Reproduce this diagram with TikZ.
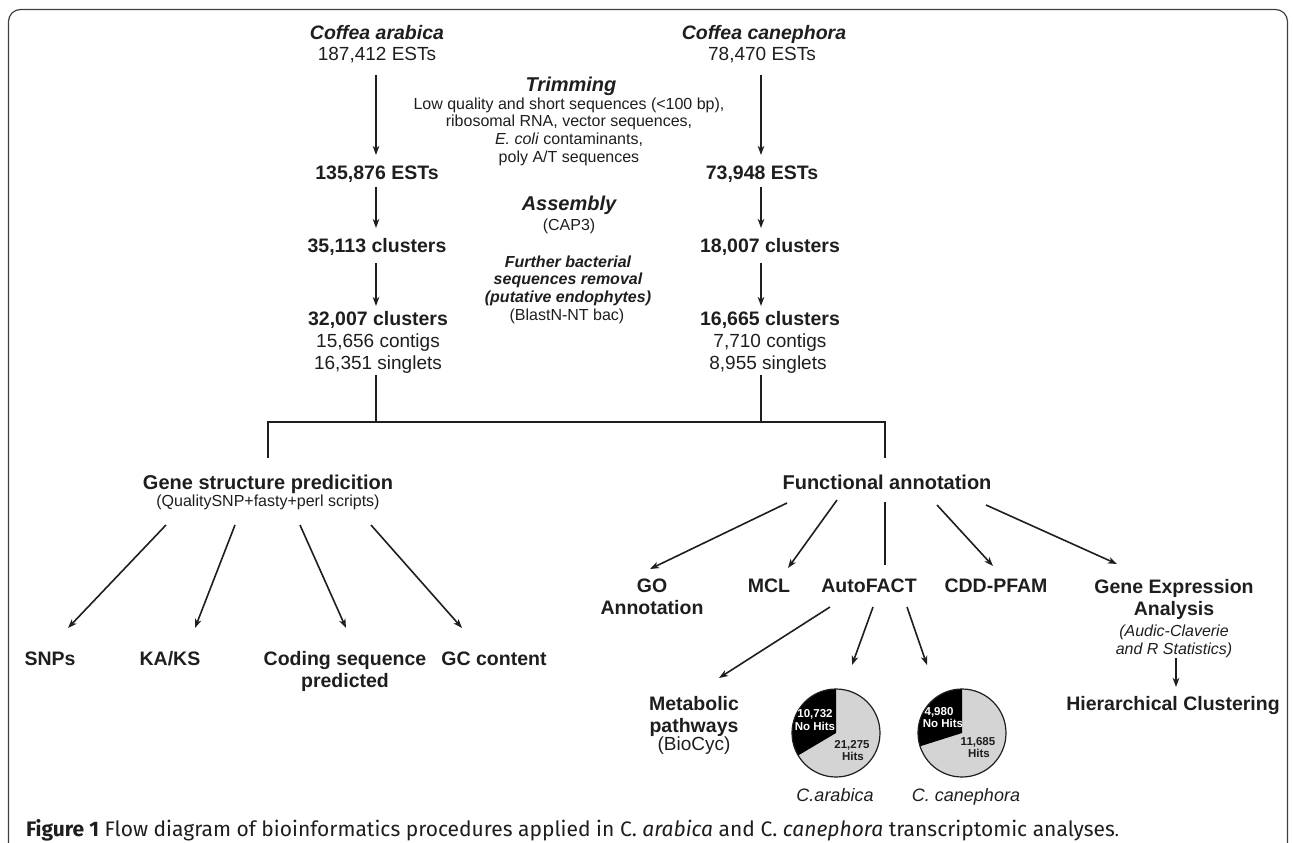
\documentclass[tikz,border=0pt]{standalone}
\usepackage{fontspec}
\setmainfont{Liberation Sans}
\newfontfamily\capfont{Fira Sans}
\usetikzlibrary{arrows.meta,calc}
\newcommand\fsHead{\fontsize{20}{22}\selectfont}
\newcommand\fsBig{\fontsize{19.5}{22}\selectfont}
\newcommand\fsReg{\fontsize{19}{22}\selectfont}
\newcommand\fsSmall{\fontsize{16}{18}\selectfont}
\newcommand\fsPie{\fontsize{11.5}{13}\selectfont}
\newcommand\fsPlab{\fontsize{18}{20}\selectfont}
\newcommand\fsCap{\fontsize{21}{24}\selectfont}
\definecolor{ink}{HTML}{1E1E1E}
\definecolor{piegray}{HTML}{D4D4D4}
\begin{document}
\begin{tikzpicture}[x=1pt,y=-1pt,
  txt/.style={inner sep=0pt,outer sep=0pt,anchor=base,text=ink},
  bigb/.style={txt,font=\fsBig\bfseries},
  spec/.style={txt,font=\fsBig\bfseries\itshape},
  regl/.style={txt,font=\fsReg},
  head/.style={txt,font=\fsHead\bfseries},
  headit/.style={txt,font=\fsHead\bfseries\itshape},
  small/.style={txt,font=\fsSmall},
  smallbi/.style={txt,font=\fsSmall\bfseries\itshape},
  smallit/.style={txt,font=\fsSmall\itshape},
  pietxt/.style={txt,font=\fsPie\bfseries},
  plab/.style={txt,font=\fsPlab\itshape},
  arr/.style={draw=ink,line width=1.6pt,-{Stealth[length=9pt,width=6.5pt,inset=2.5pt]}},
  ln/.style={draw=ink,line width=1.6pt},
  frame/.style={draw=ink!85,line width=1.2pt,rounded corners=12pt}]
\useasboundingbox (0,0) rectangle (1293,843);
\draw[frame] (8.5,843) -- (8.5,9.5) -- (1287.5,9.5) -- (1287.5,843);

% column reference coordinates
\coordinate (colL) at (376,0);
\coordinate (colR) at (761,0);

% left column
\node[spec] (ca1) at (377,40) {Coffea arabica};
\node[regl] (ca2) at (377,61) {187,412 ESTs};
\node[bigb] (la3) at (377,179) {135,876 ESTs};
\node[bigb] (la4) at (377,252) {35,113 clusters};
\node[bigb] (la5) at (378,325) {32,007 clusters};
\node[regl] (la6) at (378,347) {15,656 contigs};
\node[regl] (la7) at (378,369) {16,351 singlets};

% right column
\node[spec] (cc1) at (764,40) {Coffea canephora};
\node[regl] (cc2) at (762,61) {78,470 ESTs};
\node[bigb] (rc3) at (762,179) {73,948 ESTs};
\node[bigb] (rc4) at (770,252) {18,007 clusters};
\node[bigb] (rc5) at (770,325) {16,665 clusters};
\node[regl] (rc6) at (770,347) {7,710 contigs};
\node[regl] (rc7) at (768,369) {8,955 singlets};

% middle column
\node[headit] (t1) at (571,92) {Trimming};
\node[small] (t2) at (569,109) {Low quality and short sequences (<100 bp),};
\node[small] (t3) at (569,126.7) {ribosomal RNA, vector sequences,};
\node[small] (t4) at (569,144.3) {\textit{E. coli} contaminants,};
\node[small] (t5) at (569,162) {poly A/T sequences};
\node[headit] (as1) at (569,210) {Assembly};
\node[small] (as2) at (569,230) {(CAP3)};
\node[smallbi] (fb1) at (568,267) {Further bacterial};
\node[smallbi] (fb2) at (568,284.5) {sequences removal};
\node[smallbi] (fb3) at (568,302) {(putative endophytes)};
\node[small] (fb4) at (567,320) {(BlastN-NT bac)};

% vertical arrows
\foreach \a/\b/\s/\e in {ca2/la3/14/24, la3/la4/8/24, la4/la5/11/19}{
  \draw[arr] ($(colL |- \a.base)+(0,\s)$) -- ($(colL |- \b.base)+(0,-\e)$);
}
\foreach \a/\b/\s/\e in {cc2/rc3/14/24, rc3/rc4/8/24, rc4/rc5/11/19}{
  \draw[arr] ($(colR |- \a.base)+(0,\s)$) -- ($(colR |- \b.base)+(0,-\e)$);
}

% second level
\node[head] (gs) at (268,489) {Gene structure predicition};
\node[small] (gs2) at (268,506) {(QualitySNP+fasty+perl scripts)};
\node[head] (fa) at (887,489) {Functional annotation};

% bracket
\draw[ln] ($(colL |- la7.base)+(0,6)$) -- ($(colL |- gs.base)+(0,-67)$);
\draw[ln] ($(colR |- rc7.base)+(0,6)$) -- ($(colR |- gs.base)+(0,-67)$);
\draw[ln] ($(gs.base)+(0,-31)$) |- ($(fa.base)+(-2,-67)$) -- ($(fa.base)+(-2,-31)$);

% gene structure leaves
\node[bigb] (snp) at (50,665) {SNPs};
\node[bigb] (kaks) at (170,665) {KA/KS};
\node[bigb] (cs1) at (345,665) {Coding sequence};
\node[bigb] (cs2) at (345,687) {predicted};
\node[bigb] (gc) at (494,665) {GC content};
\draw[arr] ($(gs2.base)+(-102,19)$) -- ($(snp.base)+(18,-37)$);
\draw[arr] ($(gs2.base)+(-33,19)$) -- ($(kaks.base)+(25,-37)$);
\draw[arr] ($(gs2.base)+(32,19)$) -- ($(cs1.base)+(1,-37)$);
\draw[arr] ($(gs2.base)+(103,19)$) -- ($(gc.base)+(-32,-37)$);

% functional annotation leaves
\node[bigb] (go1) at (652,592) {GO};
\node[bigb] (go2) at (652,614) {Annotation};
\node[bigb] (mcl) at (769,592) {MCL};
\node[bigb] (auto) at (869,592) {AutoFACT};
\node[bigb] (cdd) at (996,592) {CDD-PFAM};
\node[bigb] (ge1) at (1174,593) {Gene Expression};
\node[bigb] (ge2) at (1174,615) {Analysis};
\node[smallit] (ge3) at (1174,636) {(Audic-Claverie};
\node[smallit] (ge4) at (1174,654) {and R Statistics)};
\node[bigb] (hc) at (1173,710) {Hierarchical Clustering};

\draw[arr] ($(fa.base)+(-100,14)$) -- ($(go1.base)+(-2,-23)$);
\draw[arr] ($(fa.base)+(-50,11)$) -- ($(mcl.base)+(19,-24)$);
\draw[ln]  ($(fa.base)+(-2,13)$) -- ($(auto.base)+(16,-27)$);
\draw[arr] ($(fa.base)+(50,16)$) -- ($(cdd.base)+(-3,-26)$);
\draw[arr] ($(fa.base)+(99,16)$) -- ($(ge1.base)+(-57,-29)$);
\draw[arr] ($(ge4.base)+(2,4)$) -- ($(hc.base)+(3,-23)$);

% AutoFACT outputs
\node[bigb] (mp1) at (694,710) {Metabolic};
\node[bigb] (mp2) at (694,732) {pathways};
\node[regl] (mp3) at (694,750) {(BioCyc)};
\coordinate (pie1) at (836,733);
\coordinate (pie2) at (962,733);
\draw[arr] ($(auto.base)+(-39,15)$) -- ($(mp1.base)+(25,-32)$);
\draw[arr] ($(auto.base)+(4,15)$) -- ($(pie1)+(16,-68)$);
\draw[arr] ($(auto.base)+(38,15)$) -- ($(pie2)+(-35,-68)$);

% pies
\fill[piegray] (pie1) circle[radius=44];
\fill[black] (pie1) -- ++(-90:44) arc[start angle=-90,end angle=-210.7,radius=44] -- cycle;
\draw[ink,line width=1.2pt] (pie1) circle[radius=44];
\fill[piegray] (pie2) circle[radius=44];
\fill[black] (pie2) -- ++(-90:44) arc[start angle=-90,end angle=-197.6,radius=44] -- cycle;
\draw[ink,line width=1.2pt] (pie2) circle[radius=44];

\node[pietxt,text=white] (p1a) at (815,717) {10,732};
\node[pietxt,text=white] (p1b) at (815,730) {No Hits};
\node[pietxt] (p1c) at (852,748) {21,275};
\node[pietxt] (p1d) at (853,760) {Hits};
\node[pietxt,text=white] (p2a) at (939,715) {4,980};
\node[pietxt,text=white] (p2b) at (943,727) {No Hits};
\node[pietxt] (p2c) at (978,745) {11,685};
\node[pietxt] (p2d) at (979,757) {Hits};

\node[plab] (pl1) at (835,801) {C.arabica};
\node[plab] (pl2) at (966,801) {C. canephora};

% caption
\node[txt,anchor=base west,font=\capfont\fsCap] (cap) at (26,836)
  {\textbf{Figure 1} Flow diagram of bioinformatics procedures applied in C.~\textit{arabica} and C.~\textit{canephora} transcriptomic analyses{\fontsize{17}{20}\selectfont.}};
\end{tikzpicture}
\end{document}
